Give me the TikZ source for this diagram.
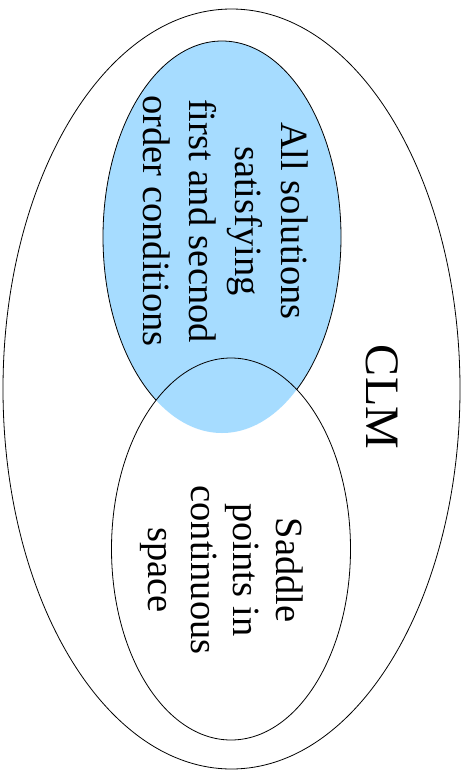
\documentclass[tikz,border=0pt]{standalone}
\usepackage{fontspec}
\setmainfont{Liberation Serif}
\usepackage{tikz}
\usetikzlibrary{positioning}

\definecolor{setblue}{RGB}{166,220,255}

\begin{document}
\begin{tikzpicture}[
  x=1pt, y=-1pt,
  setline/.style={draw=black, line width=0.8pt},
  settext/.style={rotate=-90, align=center, inner sep=0pt,
    font=\fontsize{38.5pt}{46pt}\selectfont},
  bigtext/.style={rotate=-90, inner sep=0pt,
    font=\fontsize{48pt}{56pt}\selectfont}
]
\useasboundingbox (0,0) rectangle (466,771);

% === Outer set (CLM) ===
\draw[setline] (231.5,389) ellipse [x radius=228.5, y radius=380];

% === First and second order set ===
\fill[setblue] (222,237) ellipse [x radius=119, y radius=196];
\draw[setline] (222,237) ellipse [x radius=119, y radius=196];

% === Saddle point set, overlap kept blue ===
\fill[white] (231,549) ellipse [x radius=119.5, y radius=191];
\begin{scope}
  \clip (231,549) ellipse [x radius=119.5, y radius=191];
  \fill[setblue] (222,237) ellipse [x radius=119, y radius=196];
\end{scope}
\draw[setline] (231,549) ellipse [x radius=119.5, y radius=191];

% === Labels ===
\node[bigtext] (clm) at (382,397) {CLM};
\node[settext] (sols) at (226,221)
  {All solutions\\satisfying\\first and secnod\\order conditions};
\node[settext, font=\fontsize{38.5pt}{42.5pt}\selectfont] (saddle) at (222,570)
  {Saddle\\points in\\continuous\\space};

\end{tikzpicture}
\end{document}
